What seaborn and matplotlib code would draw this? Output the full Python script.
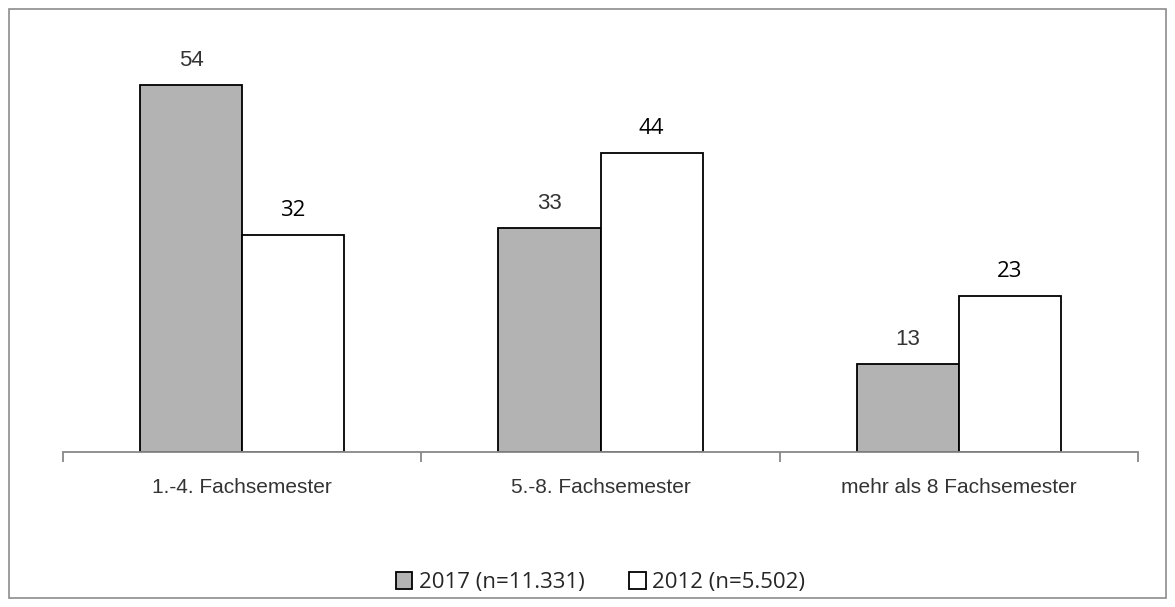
import pandas as pd
import matplotlib.pyplot as plt
import seaborn as sns
from matplotlib.patches import Rectangle

categories = ["1.-4. Fachsemester", "5.-8. Fachsemester", "mehr als 8 Fachsemester"]
series_names = ["2017 (n=11.331)", "2012 (n=5.502)"]
values_2017 = [54, 33, 13]
values_2012 = [32, 44, 23]

df = pd.DataFrame({
    "Kategorie": categories * 2,
    "Jahr": [series_names[0]] * 3 + [series_names[1]] * 3,
    "Wert": values_2017 + values_2012,
})

sns.set_style("white")
fig = plt.figure(figsize=(11.75, 6.07), dpi=100)
ax = fig.add_axes([63 / 1175, 155 / 607, 1075 / 1175, 411 / 607])

sns.barplot(data=df, x="Kategorie", y="Wert", hue="Jahr", ax=ax,
            palette={series_names[0]: "#b3b3b3", series_names[1]: "white"},
            edgecolor="black", linewidth=1.3, width=0.57, gap=0, legend=True)

ax.set_xlim(-0.5, 2.5)
ax.set_ylim(0, 60.5)
ax.set_xlabel("")
ax.set_ylabel("")
ax.set_yticks([])
for side in ["top", "right", "left"]:
    ax.spines[side].set_visible(False)
ax.spines["bottom"].set_color("#888888")
ax.spines["bottom"].set_linewidth(1.3)

# ticks sit between the categories
ax.set_xticks([-0.5, 0.5, 1.5, 2.5], minor=True)
ax.tick_params(axis="x", which="minor", bottom=True, length=7, width=1.3,
               color="#888888", direction="out")
ax.tick_params(axis="x", which="major", length=0, pad=19)
for lab in ax.get_xticklabels():
    lab.set_fontfamily("Liberation Sans")
    lab.set_fontsize(15)
    lab.set_color("#333333")

# value labels
ax.bar_label(ax.containers[0], padding=10, fontsize=16, color="#333333", family="Liberation Sans")
ax.bar_label(ax.containers[1], padding=10, fontsize=16, color="black", family="Open Sans")

leg = ax.legend(loc="center", bbox_to_anchor=(0.5, -0.318), ncol=2, frameon=False,
                handlelength=0.75, handleheight=0.75, handletextpad=0.3, columnspacing=2.0,
                prop={"family": "Open Sans", "size": 16})

# outer border
fig.patches.append(Rectangle((9 / 1175, 9 / 607), 1157 / 1175, 589 / 607, transform=fig.transFigure,
                             fill=False, edgecolor="#8c8c8c", linewidth=1.2))

fig.savefig("out.png", dpi=100)
